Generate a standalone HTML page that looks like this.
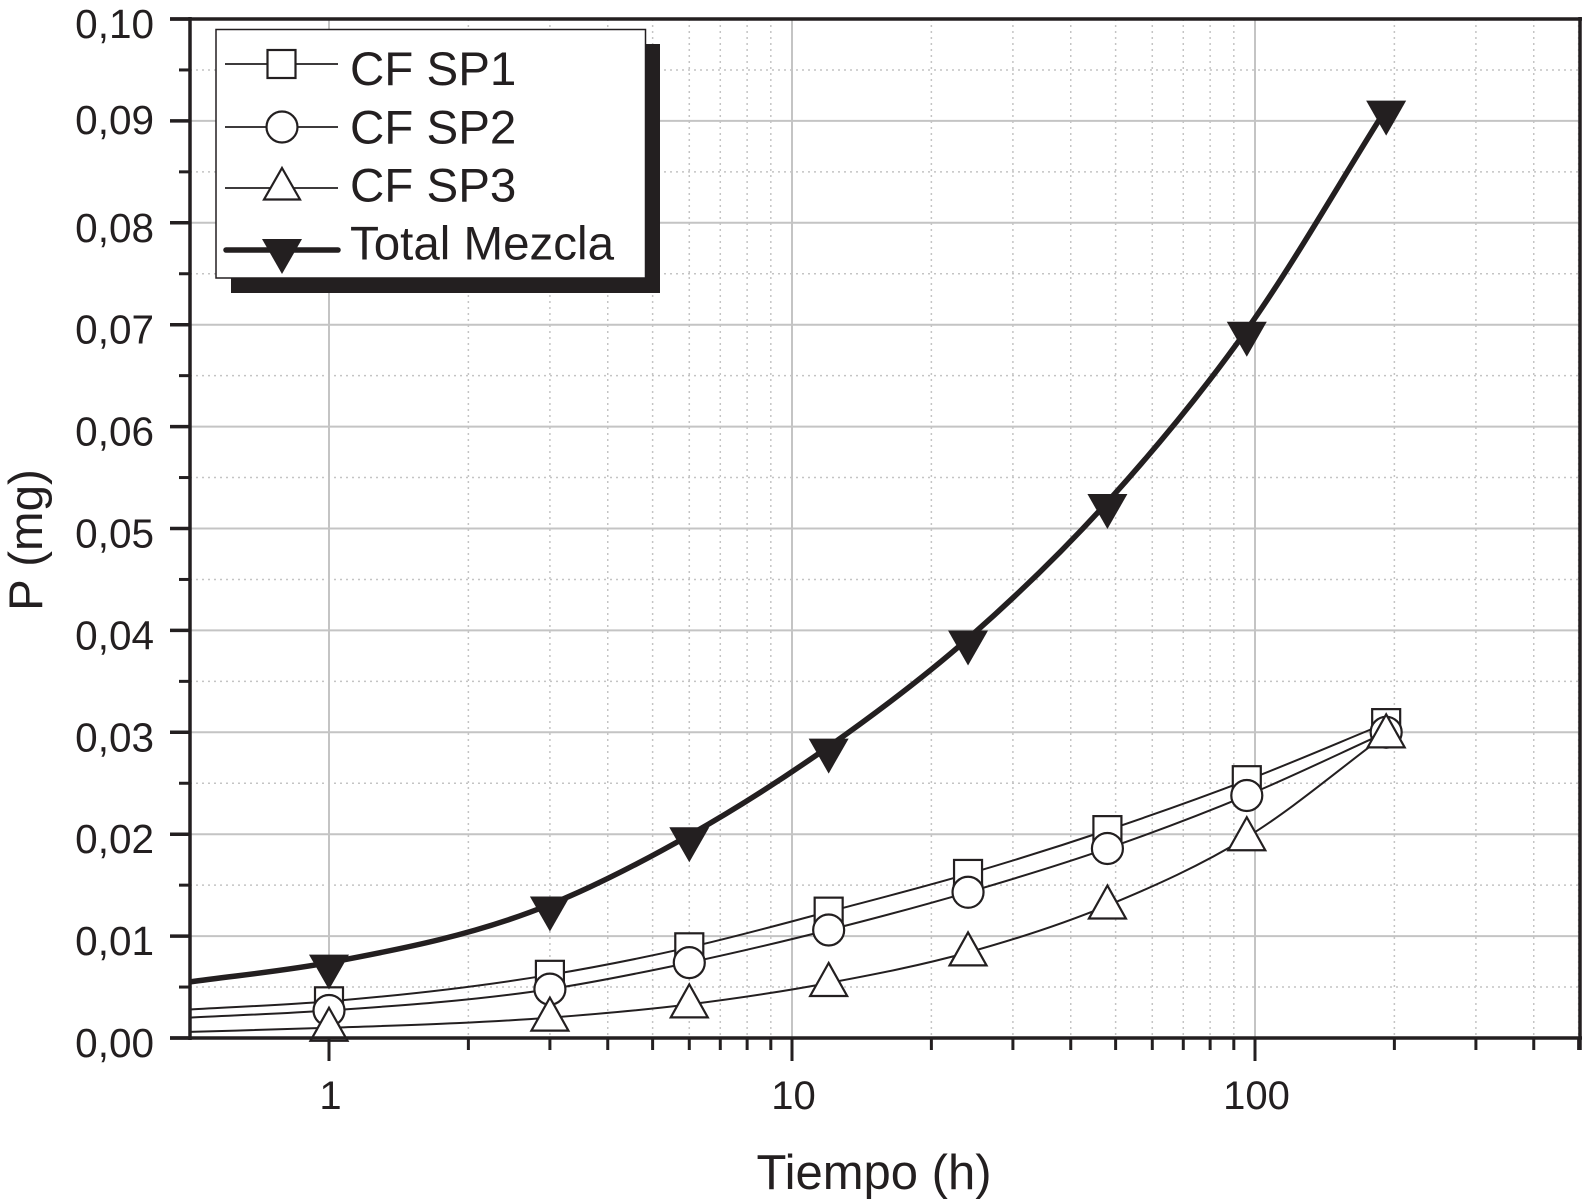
<!DOCTYPE html>
<html lang="es">
<head>
<meta charset="utf-8">
<title>P (mg) frente a Tiempo (h)</title>
<style>
html,body{margin:0;padding:0;background:#fff;}
svg{display:block;font-family:"Liberation Sans",Arial,sans-serif;}
</style>
</head>
<body>
<svg id="chart" width="1582" height="1200" viewBox="0 0 1582 1200" xmlns="http://www.w3.org/2000/svg">
  <rect width="1582" height="1200" fill="#ffffff"/>
  <g id="grid"></g>
  <g id="series"></g>
  <g id="axes"></g>
  <text x="874" y="1189" font-size="49" text-anchor="middle" fill="#231f20">Tiempo (h)</text>
  <text transform="translate(42 540) rotate(-90)" font-size="47.500" text-anchor="middle" fill="#231f20">P (mg)</text>
  <g>
    <rect x="231" y="44" width="429" height="249" fill="#231f20"/>
    <rect x="216" y="29.500" width="429.500" height="248.500" fill="#ffffff" stroke="#231f20" stroke-width="1.500"/>
    <g>
      <line x1="225" y1="64" x2="338" y2="64" stroke="#231f20" stroke-width="1.800"/>
      <rect x="267.500" y="50" width="28" height="28" fill="#fff" stroke="#231f20" stroke-width="2.200"/>
      <text x="350" y="85" font-size="47.500" fill="#231f20">CF SP1</text>
    </g>
    <g>
      <line x1="225" y1="127" x2="338" y2="127" stroke="#231f20" stroke-width="1.800"/>
      <circle cx="282" cy="127" r="15.500" fill="#fff" stroke="#231f20" stroke-width="2.200"/>
      <text x="350" y="143.500" font-size="47.500" fill="#231f20">CF SP2</text>
    </g>
    <g>
      <line x1="225" y1="188" x2="338" y2="188" stroke="#231f20" stroke-width="1.800"/>
      <polygon points="282,168 300,199.500 264,199.500" fill="#fff" stroke="#231f20" stroke-width="2.200" stroke-linejoin="miter"/>
      <text x="350" y="201.500" font-size="47.500" fill="#231f20">CF SP3</text>
    </g>
    <g>
      <line x1="226" y1="250" x2="338" y2="250" stroke="#231f20" stroke-width="5.500" stroke-linecap="round"/>
      <polygon points="262,239 302,239 282,274" fill="#231f20"/>
      <text x="350" y="259.500" font-size="47.500" fill="#231f20">Total Mezcla</text>
    </g>
  </g>
</svg>
<script>
// Chart data
const times = [0.5, 1, 3, 6, 12, 24, 48, 96, 192];
const sp1Values = [0.0028, 0.0036, 0.0062, 0.0089, 0.0124, 0.0161, 0.0204, 0.0253, 0.0309];
const sp2Values = [0.0020, 0.0027, 0.0048, 0.0074, 0.0106, 0.0143, 0.0186, 0.0238, 0.0300];
const sp3Values = [0.0006, 0.0010, 0.0020, 0.0033, 0.0054, 0.0084, 0.0130, 0.0197, 0.0298];
const totalValues = [0.0055, 0.0074, 0.0131, 0.0199, 0.0286, 0.0392, 0.0526, 0.0695, 0.0912];
const yTickValues = [0, 0.01, 0.02, 0.03, 0.04, 0.05, 0.06, 0.07, 0.08, 0.09, 0.10];
const yTickLabels = ["0,00", "0,01", "0,02", "0,03", "0,04", "0,05", "0,06", "0,07", "0,08", "0,09", "0,10"];
const yMinorValues = [0.005, 0.015, 0.025, 0.035, 0.045, 0.055, 0.065, 0.075, 0.085, 0.095];
const xMajorValues = [1, 10, 100];
const xMajorLabels = ["1", "10", "100"];
const xMinorValues = [2, 3, 4, 5, 6, 7, 8, 9, 20, 30, 40, 50, 60, 70, 80, 90, 200, 300, 400, 500];

const INK = "#231f20";
const NS = "http://www.w3.org/2000/svg";
const plotLeft = 190, plotRight = 1580, plotTop = 19, plotBottom = 1038;
const xScale = v => 329 + 463 * Math.log10(v);
const yScale = v => plotBottom - (plotBottom - plotTop) * (v / 0.10);

function make(parent, tag, attrs) {
  const el = document.createElementNS(NS, tag);
  for (const k in attrs) el.setAttribute(k, attrs[k]);
  parent.appendChild(el);
  return el;
}

// Cubic Hermite curve with tangents weighted by the uneven log-x spacing
function smoothPath(pts) {
  const n = pts.length;
  const dx = [], s = [], m = [];
  for (let i = 0; i < n - 1; i++) {
    dx.push(pts[i + 1][0] - pts[i][0]);
    s.push((pts[i + 1][1] - pts[i][1]) / dx[i]);
  }
  m.push(s[0]);
  for (let i = 1; i < n - 1; i++) {
    m.push((s[i - 1] * dx[i] + s[i] * dx[i - 1]) / (dx[i - 1] + dx[i]));
  }
  m.push(s[n - 2]);
  let d = "M" + pts[0][0].toFixed(2) + " " + pts[0][1].toFixed(2);
  for (let i = 0; i < n - 1; i++) {
    const h = dx[i] / 3;
    d += "C" + (pts[i][0] + h).toFixed(2) + " " + (pts[i][1] + m[i] * h).toFixed(2) + " " +
         (pts[i + 1][0] - h).toFixed(2) + " " + (pts[i + 1][1] - m[i + 1] * h).toFixed(2) + " " +
         pts[i + 1][0].toFixed(2) + " " + pts[i + 1][1].toFixed(2);
  }
  return d;
}

const grid = document.getElementById("grid");
const axes = document.getElementById("axes");
const seriesLayer = document.getElementById("series");

yMinorValues.forEach(v => {
  const l = make(grid, "line", {x1: plotLeft, x2: plotRight, y1: yScale(v), y2: yScale(v), stroke: "#c4c4c4", "stroke-width": 1.5, "stroke-dasharray": "2 4"});
  
  
});
xMinorValues.forEach(v => {
  const l = make(grid, "line", {x1: xScale(v), x2: xScale(v), y1: plotTop, y2: plotBottom, stroke: "#c4c4c4", "stroke-width": 1.5, "stroke-dasharray": "2 4"});
  
  
});
yTickValues.forEach(v => {
  const l = make(grid, "line", {x1: plotLeft, x2: plotRight, y1: yScale(v), y2: yScale(v), stroke: "#c4c4c4", "stroke-width": 2});
  
  
});
xMajorValues.forEach(v => {
  const l = make(grid, "line", {x1: xScale(v), x2: xScale(v), y1: plotTop, y2: plotBottom, stroke: "#c4c4c4", "stroke-width": 2});
  
  
});

function drawSeries(name, values, width) {
  const pts = times.map((t, i) => [xScale(t), yScale(values[i])]);
  const p = make(seriesLayer, "path", {d: smoothPath(pts), fill: "none", stroke: INK, "stroke-width": width, "stroke-linejoin": "round"});
  
  
}

function drawMarker(kind, name, t, v) {
  const x = xScale(t), y = yScale(v);
  let m;
  if (kind === "square") {
    m = make(seriesLayer, "rect", {x: x - 14, y: y - 14, width: 28, height: 28, fill: "#fff", stroke: INK, "stroke-width": 2.2});
  } else if (kind === "circle") {
    m = make(seriesLayer, "circle", {cx: x, cy: y, r: 15.5, fill: "#fff", stroke: INK, "stroke-width": 2.2});
  } else if (kind === "up") {
    m = make(seriesLayer, "polygon", {points: [x, y - 20, x + 18.5, y + 13, x - 18.5, y + 13].join(" "), fill: "#fff", stroke: INK, "stroke-width": 2.2});
  } else {
    m = make(seriesLayer, "polygon", {points: [x - 20, y - 8, x + 20, y - 8, x, y + 27].join(" "), fill: INK});
  }
  
  
}

drawSeries("sp1", sp1Values, 2);
drawSeries("sp2", sp2Values, 2);
drawSeries("sp3", sp3Values, 2);
drawSeries("total", totalValues, 5.5);

times.forEach((t, i) => { if (i > 0) drawMarker("square", "sp1", t, sp1Values[i]); });
times.forEach((t, i) => { if (i > 0) drawMarker("circle", "sp2", t, sp2Values[i]); });
times.forEach((t, i) => { if (i > 0) drawMarker("up", "sp3", t, sp3Values[i]); });
times.forEach((t, i) => { if (i > 0) drawMarker("down", "total", t, totalValues[i]); });

// Axis frame
const frame = [
  ["y-axis-line", plotLeft, plotTop - 2, plotLeft, plotBottom + 2],
  ["right-axis-line", plotRight, plotTop - 2, plotRight, plotBottom + 12],
  ["top-axis-line", 170, plotTop, plotRight + 2, plotTop],
  ["x-axis-line", 170, plotBottom, plotRight + 2, plotBottom]
];
frame.forEach(f => {
  const l = make(axes, "line", {x1: f[1], y1: f[2], x2: f[3], y2: f[4], stroke: INK, "stroke-width": 3.5});
  
  
});

yTickValues.forEach((v, i) => {
  const y = yScale(v);
  const tick = make(axes, "line", {x1: 170, x2: plotLeft, y1: y, y2: y, stroke: INK, "stroke-width": 3.5});
  
  
  const nudge = yTickLabels[i] === "0,09" ? 13 : 19;
  const label = make(axes, "text", {x: 154, y: y + nudge, "font-size": 40.5, "text-anchor": "end", fill: INK});
  label.textContent = yTickLabels[i];
  
  
});
yMinorValues.forEach(v => {
  const tick = make(axes, "line", {x1: 179, x2: plotLeft, y1: yScale(v), y2: yScale(v), stroke: INK, "stroke-width": 3});
  
  
});
xMajorValues.forEach((v, i) => {
  const x = xScale(v);
  const tick = make(axes, "line", {x1: x, x2: x, y1: plotBottom, y2: plotBottom + 23, stroke: INK, "stroke-width": 3});
  
  
  const label = make(axes, "text", {x: x + 1.5, y: 1109, "font-size": 40, "text-anchor": "middle", fill: INK});
  label.textContent = xMajorLabels[i];
  
  
});
xMinorValues.forEach(v => {
  const tick = make(axes, "line", {x1: xScale(v), x2: xScale(v), y1: plotBottom, y2: plotBottom + 12, stroke: INK, "stroke-width": 3});
  
  
});
</script>
</body>
</html>
